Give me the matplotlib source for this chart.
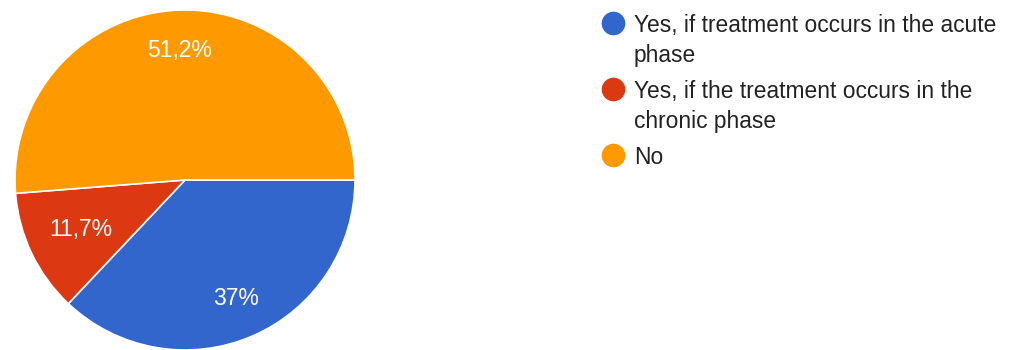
import matplotlib
matplotlib.use("Agg")
import numpy as np
import matplotlib.pyplot as plt
from matplotlib.lines import Line2D

categories = ["Yes, if treatment occurs in the acute\nphase",
              "Yes, if the treatment occurs in the\nchronic phase",
              "No"]
values = [37.0, 11.7, 51.2]
value_labels = ["37%", "11,7%", "51,2%"]
colors = ["#3366cc", "#dc3912", "#ff9900"]

plt.rcParams['font.family'] = ['Liberation Sans', 'DejaVu Sans']

W, H = 1023, 350
fig = plt.figure(figsize=(W / 100, H / 100), dpi=100)
ax = fig.add_axes([15 / W, 0, 340 / W, 340 / H])
wedges, texts = ax.pie(values, colors=colors, startangle=0, counterclock=False,
                       radius=1, center=(0, 0),
                       wedgeprops=dict(edgecolor="white", linewidth=1.2),
                       labels=value_labels, labeldistance=0.76,
                       textprops=dict(color="white", fontsize=16.5, ha="center", va="center"))
# the small slice label sits a bit closer to the centre
w = wedges[1]
mid = np.deg2rad((w.theta1 + w.theta2) / 2)
texts[1].set_position((0.68 * np.cos(mid), 0.68 * np.sin(mid)))
ax.set_xlim(-1, 1)
ax.set_ylim(-1, 1)
ax.set_aspect("equal")
ax.axis("off")

# legend drawn manually (marker aligned with first line of each label)
fs = 16.4
line_step = 30
entry_gap = 36
marker_x = 613
text_x = 634
y = 32  # baseline of first line, pixels from top
for lab, c in zip(categories, colors):
    fig.add_artist(Line2D([marker_x / W], [1 - (y - 9) / H], transform=fig.transFigure,
                          marker="o", markersize=16, linestyle="",
                          markerfacecolor=c, markeredgecolor=c))
    lines = lab.split("\n")
    for k, ln in enumerate(lines):
        fig.text(text_x / W, 1 - (y + k * line_step) / H, ln, fontsize=fs,
                 color="#222222", ha="left", va="baseline")
    y += (len(lines) - 1) * line_step + entry_gap

fig.savefig("out.png", dpi=100, facecolor="white")
